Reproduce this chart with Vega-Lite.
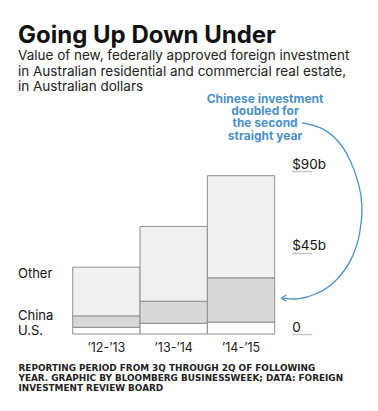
{
  "$schema": "https://vega.github.io/schema/vega-lite/v6.json",
  "width": 202,
  "height": 163,
  "autosize": {"type": "none"},
  "padding": {"left": 72.7, "top": 171, "right": 103.3, "bottom": 77},
  "background": "white",
  "title": {
    "text": "Going Up Down Under",
    "subtitle": ["Value of new, federally approved foreign investment", "in Australian residential and commercial real estate,", "in Australian dollars"],
    "anchor": "start",
    "frame": "group",
    "dx": -54.7,
    "offset": -1,
    "font": "Inter",
    "fontSize": 24,
    "fontWeight": "bold",
    "color": "#111111",
    "subtitleFont": "Inter",
    "subtitleFontSize": 13.5,
    "subtitleColor": "#222222",
    "subtitleLineHeight": 15.5,
    "subtitlePadding": 1
  },
  "config": {"view": {"stroke": null}},
  "resolve": {"scale": {"x": "independent"}},
  "layer": [
    {
      "data": {"values": [
        {"period": "’12-’13", "category": "U.S.", "value": 3.7, "ord": 1},
        {"period": "’12-’13", "category": "China", "value": 6.3, "ord": 2},
        {"period": "’12-’13", "category": "Other", "value": 26.9, "ord": 3},
        {"period": "’13-’14", "category": "U.S.", "value": 5.9, "ord": 1},
        {"period": "’13-’14", "category": "China", "value": 12.2, "ord": 2},
        {"period": "’13-’14", "category": "Other", "value": 41.3, "ord": 3},
        {"period": "’14-’15", "category": "U.S.", "value": 6.6, "ord": 1},
        {"period": "’14-’15", "category": "China", "value": 24.4, "ord": 2},
        {"period": "’14-’15", "category": "Other", "value": 56.4, "ord": 3}
      ]},
      "mark": {"type": "bar", "stroke": "#8f8f8f", "strokeWidth": 1},
      "encoding": {
        "x": {
          "field": "period", "type": "nominal", "sort": null,
          "scale": {"paddingInner": 0, "paddingOuter": 0},
          "axis": {
            "labelFont": "Inter", "labelFontSize": 12.5, "labelColor": "#222222",
            "labelAngle": 0, "ticks": false, "domain": false, "labelPadding": 7,
            "title": ["REPORTING PERIOD FROM 3Q THROUGH 2Q OF FOLLOWING", "YEAR. GRAPHIC BY BLOOMBERG BUSINESSWEEK; DATA: FOREIGN", "INVESTMENT REVIEW BOARD"],
            "titleFont": "DejaVu Sans", "titleFontSize": 8.9, "titleFontWeight": "bold",
            "titleColor": "#222222", "titleAlign": "left", "titleBaseline": "alphabetic",
            "titleX": -54.7, "titleY": 36, "titleLineHeight": 10.4
          }
        },
        "y": {
          "field": "value", "type": "quantitative", "stack": "zero",
          "scale": {"domain": [0, 90], "nice": false},
          "axis": {
            "orient": "right", "values": [0, 45, 90], "title": null,
            "labelExpr": "datum.value == 0 ? '0' : '$' + datum.value + 'b'",
            "grid": false, "domain": false, "offset": 17,
            "tickSize": 20, "tickColor": "#c4c4c4", "tickWidth": 1.5,
            "labelPadding": -20, "labelAlign": "left", "labelBaseline": "alphabetic",
            "labelOffset": -3, "labelFont": "Inter", "labelFontSize": 13.5, "labelColor": "#111111"
          }
        },
        "order": {"field": "ord"},
        "color": {
          "field": "category", "type": "nominal", "legend": null,
          "scale": {"domain": ["U.S.", "China", "Other"], "range": ["#ffffff", "#d8d8d8", "#f0f0f0"]}
        }
      }
    },
    {
      "layer": [
        {
          "data": {"values": [
            {"step": 1, "ax": 3.403, "ay": 116.6},
            {"step": 2, "ax": 3.675, "ay": 114.7},
            {"step": 3, "ax": 3.923, "ay": 108.3},
            {"step": 4, "ax": 4.12, "ay": 97.2},
            {"step": 5, "ax": 4.259, "ay": 82.4},
            {"step": 6, "ax": 4.309, "ay": 71.3},
            {"step": 7, "ax": 4.279, "ay": 56.6},
            {"step": 8, "ax": 4.169, "ay": 41.9},
            {"step": 9, "ax": 3.923, "ay": 28.9},
            {"step": 10, "ax": 3.626, "ay": 21.6},
            {"step": 11, "ax": 3.328, "ay": 18.8},
            {"step": 12, "ax": 3.129, "ay": 19.8}
          ]},
          "mark": {"type": "line", "interpolate": "basis", "color": "#4a90c9", "strokeWidth": 1.3},
          "encoding": {
            "x": {"field": "ax", "type": "quantitative", "scale": {"domain": [0, 3], "nice": false, "zero": false}, "axis": null},
            "y": {"field": "ay", "type": "quantitative", "scale": {"domain": [0, 90], "nice": false}},
            "order": {"field": "step"}
          }
        },
        {
          "data": {"values": [{"ax": 3.129, "ay": 19.8}]},
          "mark": {"type": "point", "shape": "M 0.9 -1 L -0.6 0 L 0.9 1", "filled": false, "size": 40, "stroke": "#4a90c9", "strokeWidth": 1.3, "opacity": 1},
          "encoding": {
            "x": {"field": "ax", "type": "quantitative", "scale": {"domain": [0, 3], "nice": false, "zero": false}, "axis": null},
            "y": {"field": "ay", "type": "quantitative", "scale": {"domain": [0, 90], "nice": false}}
          }
        },
        {
          "data": {"values": [{"ax": 2.857, "ay": 127.7, "note": "Chinese investment|doubled for|the second|straight year"}]},
          "transform": [{"calculate": "split(datum.note, '|')", "as": "lines"}],
          "mark": {"type": "text", "align": "center", "baseline": "alphabetic", "font": "Inter", "fontSize": 12, "fontWeight": "bold", "color": "#4a90c9", "lineHeight": 12.3},
          "encoding": {
            "x": {"field": "ax", "type": "quantitative", "scale": {"domain": [0, 3], "nice": false, "zero": false}, "axis": null},
            "y": {"field": "ay", "type": "quantitative", "scale": {"domain": [0, 90], "nice": false}},
            "text": {"field": "lines"}
          }
        },
        {
          "data": {"values": [
            {"ax": -0.813, "ay": 33.0, "label": "Other"},
            {"ax": -0.813, "ay": 10.1, "label": "China"},
            {"ax": -0.813, "ay": 1.8, "label": "U.S."}
          ]},
          "mark": {"type": "text", "align": "left", "baseline": "middle", "font": "Inter", "fontSize": 13, "color": "#111111"},
          "encoding": {
            "x": {"field": "ax", "type": "quantitative", "scale": {"domain": [0, 3], "nice": false, "zero": false}, "axis": null},
            "y": {"field": "ay", "type": "quantitative", "scale": {"domain": [0, 90], "nice": false}},
            "text": {"field": "label"}
          }
        }
      ]
    }
  ]
}
